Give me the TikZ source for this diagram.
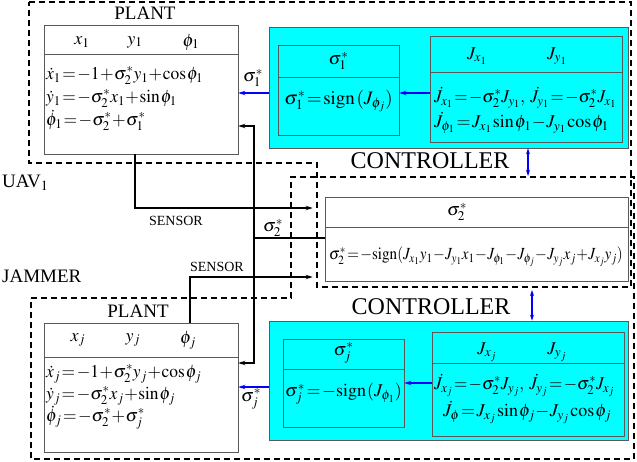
\documentclass[tikz,border=0pt]{standalone}
\usepackage{mathptmx}
\usepackage{fontspec}
\setmainfont{Liberation Serif}
\usetikzlibrary{arrows.meta}
\definecolor{cyanc}{RGB}{0,255,255}
\definecolor{bluec}{RGB}{0,0,255}
\begin{document}
\medmuskip=0.5mu\relax
\thickmuskip=1.5mu\relax
\thinmuskip=1mu\relax
\begin{tikzpicture}[x=1pt,y=-1pt,
  dbox/.style={draw, line width=1.6pt, dash pattern=on 6pt off 4pt},
  pbox/.style={draw=black!65, line width=0.8pt, inner sep=0pt},
  cpbox/.style={pbox, fill=cyanc},
  divl/.style={draw=black!65, line width=0.8pt},
  eq/.style={font=\fontsize{18}{20}\selectfont, inner sep=0pt, anchor=west, text height=10pt, text depth=3pt},
  peq/.style={font=\fontsize{17}{20}\selectfont, inner sep=0pt, anchor=west, text height=10pt, text depth=3pt},
  hd/.style={font=\fontsize{18}{20}\selectfont, inner sep=0pt},
  lbl/.style={font=\fontsize{19}{22}\selectfont, inner sep=0pt},
  clbl/.style={font=\fontsize{24}{28}\selectfont, inner sep=0pt},
  slbl/.style={font=\fontsize{14}{16}\selectfont, inner sep=0pt},
  blk/.style={line width=1.3pt, -{Stealth[length=7pt,width=4.5pt]}},
  blu/.style={bluec, line width=1.6pt, -{Stealth[length=7pt,width=4.5pt]}},
  blu2/.style={bluec, line width=1.4pt, {Stealth[length=6pt,width=4pt]}-{Stealth[length=6pt,width=4pt]}},
]
\useasboundingbox (0,0) rectangle (637,462);

% dashed regions
\draw[dbox] (29,2) -- (631,2) -- (631,287) -- (317,287) -- (317,163) -- (29,163) -- cycle;
\draw[dbox] (31,298) -- (291,298) -- (291,177) -- (634,177) -- (634,459) -- (31,459) -- cycle;

\node[lbl, anchor=base west] (uav) at (2,188) {UAV$_1$};
\node[lbl, anchor=base west] (jam) at (2,283) {JAMMER};

% ---------- UAV plant ----------
\node[lbl] (p1t) at (145,13) {PLANT};
\node[pbox, fill=white, minimum width=194pt, minimum height=129pt] (p1) at (141,89.5) {};
\draw[divl] (p1.west |- 0,54) -- (p1.east |- 0,54);
\node[hd] (p1x) at (82,42) {$x_1$};
\node[hd] (p1y) at (135,42) {$y_1$};
\node[hd] (p1f) at (191,42) {$\phi_1$};
\node[eq] (p1e1) at (46,76) {\scalebox{0.97}[1]{$\dot{x}_1 = -1+\sigma_2^* y_1 + \cos\phi_1$}};
\node[eq] (p1e2) at (46,99) {\scalebox{0.97}[1]{$\dot{y}_1 = -\sigma_2^* x_1 + \sin\phi_1$}};
\node[eq] (p1e3) at (46,122) {\scalebox{0.97}[1]{$\dot{\phi}_1 = -\sigma_2^* + \sigma_1^*$}};

% ---------- UAV controller ----------
\node[cpbox, minimum width=359pt, minimum height=121pt] (c1) at (448.5,87.5) {};
\node[cpbox, minimum width=121pt, minimum height=90pt] (s1) at (338.5,90) {};
\draw[divl] (s1.west |- 0,77) -- (s1.east |- 0,77);
\node[hd] (s1h) at (338.5,61) {$\sigma_1^*$};
\node[hd, font=\fontsize{19}{20}\selectfont] (s1e) at (338.5,101) {$\sigma_1^* = \mathrm{sign}\;(J_{\phi_j})$};
\node[cpbox, minimum width=192pt, minimum height=106pt] (j1) at (526,89) {};
\draw[divl] (j1.west |- 0,72) -- (j1.east |- 0,72);
\node[hd] (j1x) at (477,56) {$J_{x_1}$};
\node[hd] (j1y) at (557,56) {$J_{y_1}$};
\node[eq] (j1e1) at (434,99) {\scalebox{0.95}[1]{$\dot{J}_{x_1} = -\sigma_2^* J_{y_1},\ \dot{J}_{y_1} = -\sigma_2^* J_{x_1}$}};
\node[eq] (j1e2) at (434,124) {$\dot{J}_{\phi_1} = J_{x_1}\sin\phi_1 - J_{y_1}\cos\phi_1$};

\draw[blu] (j1.west |- 0,93) -- (s1.east |- 0,93);
\draw[blu] (c1.west |- 0,93) -- (p1.east |- 0,93);
\node[hd] (s1l) at (253,78) {$\sigma_1^*$};

\node[clbl] (ct1) at (430,161) {CONTROLLER};
\draw[blu2] (c1.south -| 528,0) -- (528,176);

% ---------- central controller ----------
\node[pbox, fill=white, minimum width=303pt, minimum height=84pt] (s2) at (476.5,239) {};
\draw[divl] (s2.west |- 0,227) -- (s2.east |- 0,227);
\node[hd] (s2h) at (457,212) {$\sigma_2^*$};
\node[peq] (s2e) at (329,256) {\scalebox{0.89}[1]{$\sigma_2^* = -\mathrm{sign}(J_{x_1}y_1 - J_{y_1}x_1 - J_{\phi_1} - J_{\phi_j} - J_{y_j}x_j + J_{x_j}y_j)$}};

% ---------- Jammer plant ----------
\node[lbl] (pjt) at (138,311) {PLANT};
\node[pbox, fill=white, minimum width=194pt, minimum height=129pt] (pj) at (141,387.5) {};
\draw[divl] (pj.west |- 0,357) -- (pj.east |- 0,357);
\node[hd] (pjx) at (78,340) {$x_j$};
\node[hd] (pjy) at (133,340) {$y_j$};
\node[hd] (pjf) at (188,340) {$\phi_j$};
\node[eq] (pje1) at (46,374) {\scalebox{0.97}[1]{$\dot{x}_j = -1+\sigma_2^* y_j + \cos\phi_j$}};
\node[eq] (pje2) at (46,396) {\scalebox{0.97}[1]{$\dot{y}_j = -\sigma_2^* x_j + \sin\phi_j$}};
\node[eq] (pje3) at (46,418) {\scalebox{0.97}[1]{$\dot{\phi}_j = -\sigma_2^* + \sigma_j^*$}};

% ---------- Jammer controller ----------
\node[clbl] (ct2) at (431,307) {CONTROLLER};
\node[cpbox, minimum width=359pt, minimum height=119pt] (c2) at (448.5,380.5) {};
\node[cpbox, minimum width=121pt, minimum height=88pt] (sj) at (343.5,383) {};
\draw[divl] (sj.west |- 0,369) -- (sj.east |- 0,369);
\node[hd] (sjh) at (343.5,353) {$\sigma_j^*$};
\node[hd] (sje) at (343.5,394) {$\sigma_j^* = -\mathrm{sign}\,(J_{\phi_1})$};
\node[cpbox, minimum width=192pt, minimum height=104pt] (jj) at (528,384) {};
\draw[divl] (jj.west |- 0,363) -- (jj.east |- 0,363);
\node[hd] (jjx) at (487,352) {$J_{x_j}$};
\node[hd] (jjy) at (557,352) {$J_{y_j}$};
\node[eq] (jje1) at (434,386) {\scalebox{0.95}[1]{$\dot{J}_{x_j} = -\sigma_2^* J_{y_j},\ \dot{J}_{y_j} = -\sigma_2^* J_{x_j}$}};
\node[eq] (jje2) at (443,413) {$\dot{J}_{\phi} = J_{x_j}\sin\phi_j - J_{y_j}\cos\phi_j$};

\draw[blu] (jj.west |- 0,383) -- (sj.east |- 0,383);
\draw[blu] (c2.west |- 0,387) -- (pj.east |- 0,387);
\node[hd] (sjl) at (251,399) {$\sigma_j^*$};
\draw[blu2] (532,290) -- (c2.north -| 532,0);

% ---------- sensors and feedback ----------
\draw[blk] (p1.south -| 135,0) |- (s2.west |- 0,208) [shorten >=12pt];
\node[slbl] (sen1) at (176,221) {SENSOR};
\draw[blk] (pj.north -| 190,0) |- (s2.west |- 0,277) [shorten >=12pt];
\node[slbl] (sen2) at (217,267) {SENSOR};

\coordinate (fb) at (254,238);
\draw[line width=1.3pt] (s2.west |- 0,238) -- (fb);
\draw[blk] (fb) |- (p1.east |- 0,126);
\draw[blk] (fb) |- (pj.east |- 0,363);
\node[hd] (s2l) at (273,228) {$\sigma_2^*$};
\end{tikzpicture}
\end{document}
